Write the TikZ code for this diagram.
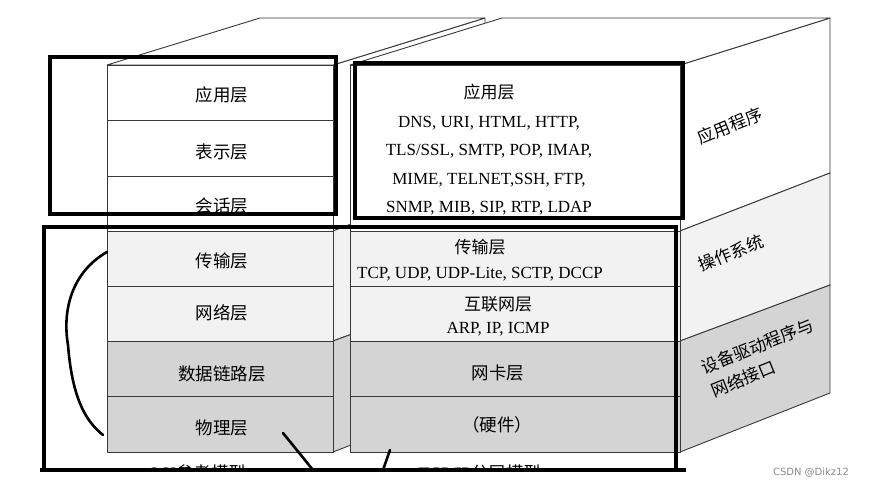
\documentclass[tikz,border=0pt]{standalone}
\usepackage{fontspec}
\setmainfont{Liberation Serif}
\newfontfamily\cjk{Noto Sans CJK SC}
\newfontfamily\wmfont{DejaVu Sans}
\usepackage{tikz}
\usetikzlibrary{positioning}

\definecolor{lite}{gray}{0.95}
\definecolor{dark}{gray}{0.83}
\definecolor{edgegray}{gray}{0.22}

\tikzset{
  face/.style={draw=edgegray, line width=0.9pt, line join=round},
  layer/.style={font=\cjk\fontsize{17.5}{20}\selectfont, inner sep=0pt},
  proto/.style={font=\fontsize{17}{20}\selectfont, inner sep=0pt, align=center},
  tilted/.style={font=\cjk\fontsize{17}{25}\selectfont, rotate=22, align=left, inner sep=0pt},
  hilite/.style={draw=black, line width=4.5pt},
  pen/.style={draw=black, line width=2.6pt, line cap=round}
}

\begin{document}
\begin{tikzpicture}[x=1pt,y=-1pt]
    \useasboundingbox[fill=white] (0,0) rectangle (876,487);

    % Modello OSI: faccia laterale e superiore
    \foreach \ya/\yb/\za/\zb/\col in {65/231/18/173/white,
                                      231/341/173/285/lite,
                                      341/452/285/393/dark}
        \filldraw[face, fill=\col] (333,\ya) -- (485,\za) -- (485,\zb) -- (333,\yb) -- cycle;
    \filldraw[face, fill=white] (107,65) -- (260,18) -- (485,18) -- (333,65) -- cycle;

    % Strati OSI
    \foreach \ya/\yb/\col in {65/120/white, 120/176/white, 176/231/white,
                              231/286/lite, 286/341/lite,
                              341/396/dark, 396/452/dark}
        \filldraw[face, fill=\col] (107,\ya) rectangle (333,\yb);

    % Modello TCP/IP: faccia laterale e superiore
    \foreach \ya/\yb/\za/\zb/\col in {65/231/18/173/white,
                                      231/341/173/285/lite,
                                      341/452/285/393/dark}
        \filldraw[face, fill=\col] (680,\ya) -- (830,\za) -- (830,\zb) -- (680,\yb) -- cycle;
    \filldraw[face, fill=white] (350,65) -- (502,18) -- (830,18) -- (680,65) -- cycle;

    % Strati TCP/IP
    \foreach \ya/\yb/\col in {65/231/white, 231/286/lite, 286/341/lite,
                              341/396/dark, 396/452/dark}
        \filldraw[face, fill=\col] (350,\ya) rectangle (680,\yb);

    % Nomi degli strati OSI
    \node[layer] (osi7) at (222,95) {应用层};
    \node[layer] (osi6) at (222,152) {表示层};
    \node[layer] (osi5) at (222,206) {会话层};
    \node[layer] (osi4) at (222,261) {传输层};
    \node[layer] (osi3) at (222,313) {网络层};
    \node[layer] (osi2) at (222,374) {数据链路层};
    \node[layer] (osi1) at (222,428) {物理层};

    % Strati TCP/IP con protocolli
    \node[proto, font=\fontsize{17}{28.5}\selectfont] (tcpapp) at (489,150)
        {{\cjk 应用层}\\ DNS, URI, HTML, HTTP,\\ TLS/SSL, SMTP, POP, IMAP,\\
         MIME, TELNET,SSH, FTP,\\ SNMP, MIB, SIP, RTP, LDAP};
    \node[proto, font=\fontsize{17}{25}\selectfont] (tcptrans) at (480,260)
        {{\cjk 传输层}\\ TCP, UDP, UDP-Lite, SCTP, DCCP};
    \node[proto, font=\fontsize{17}{23}\selectfont] (tcpnet) at (498,316)
        {{\cjk 互联网层}\\ ARP, IP, ICMP};
    \node[layer] (tcplink) at (498,373) {网卡层};
    \node[layer] (tcphw) at (497,425) {（硬件）};

    % Faccia laterale
    \node[tilted] (sideapp) at (730,126) {应用程序};
    \node[tilted] (sideos) at (731,253) {操作系统};
    \node[tilted, anchor=west] (sidedrv) at (707,380) {设备驱动程序与\\网络接口};

    % Didascalie tagliate in basso
    \begin{scope}
        \clip (0,0) rectangle (876,468);
        \node[layer] (osiname) at (197,473) {{\rmfamily OSI}参考模型};
        \node[layer] (tcpname) at (480,473) {{\rmfamily TCP/IP}分层模型};
    \end{scope}

    % Riquadri e segni a mano
    \draw[hilite] (50,57) rectangle (336,214);
    \draw[hilite] (355,63) rectangle (683,218);
    \draw[hilite, line width=3.5pt] (44,227) rectangle (676,470);
    \draw[black, line width=4pt] (40,470) -- (686,470); % base prolungata
    \draw[pen] (107,252) .. controls (72,272) and (62,310) .. (68,345)
               .. controls (72,395) and (84,420) .. (103,435);
    \draw[pen] (283,433) -- (313,470);
    \draw[pen] (390,450) -- (383,470);

    % Filigrana
    \node[font=\wmfont\fontsize{10}{12}\selectfont, text=black!45] (wm) at (811,473) {CSDN @Dikz12};
\end{tikzpicture}
\end{document}
